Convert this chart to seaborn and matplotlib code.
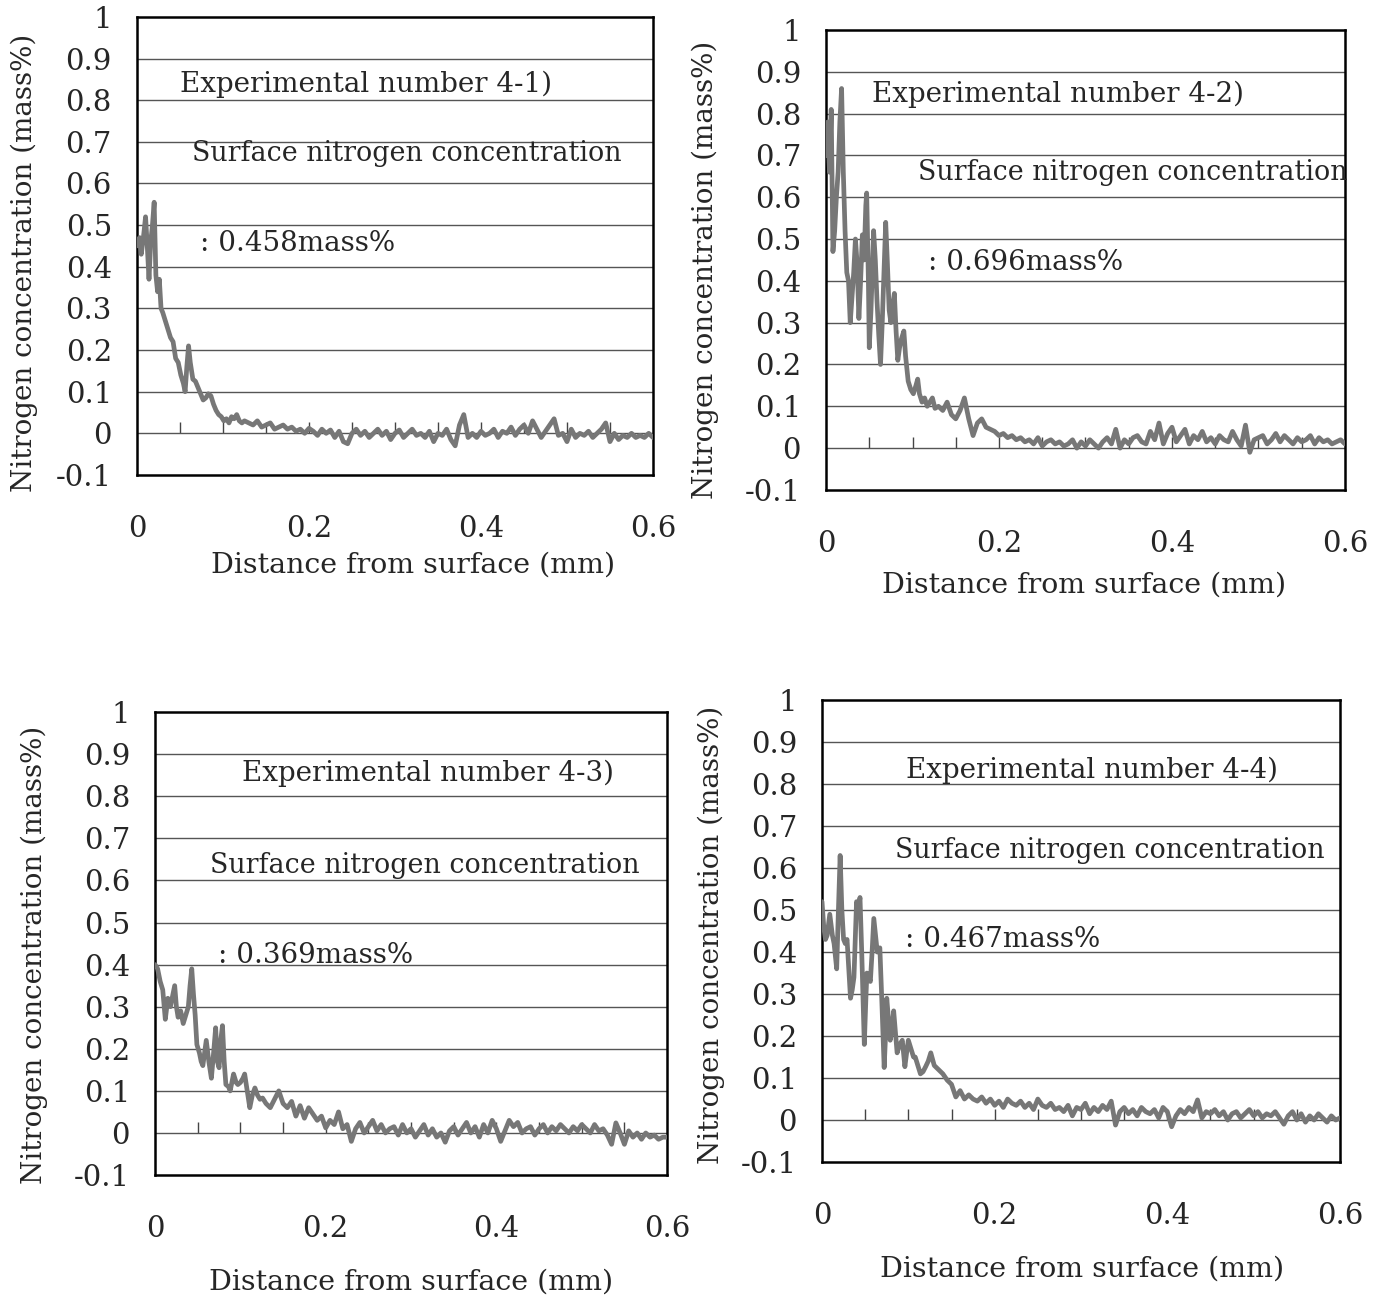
import numpy as np
import pandas as pd
import matplotlib
matplotlib.use("Agg")
import matplotlib.pyplot as plt
import seaborn as sns

# ---- data ----
# near-surface part (dense), x in mm
head_x_41 = [0.000, 0.003, 0.005, 0.008, 0.010, 0.012, 0.014, 0.016, 0.018, 0.020,
             0.022, 0.024, 0.026, 0.028, 0.030, 0.033, 0.036, 0.039, 0.042, 0.045,
             0.048, 0.051, 0.054, 0.056, 0.058, 0.060, 0.062, 0.065, 0.068, 0.071,
             0.074, 0.077, 0.080, 0.083, 0.086, 0.089, 0.092, 0.095, 0.098, 0.101,
             0.104, 0.107, 0.110, 0.113, 0.116, 0.119, 0.122, 0.125]
head_y_41 = [0.45, 0.47, 0.43, 0.48, 0.52, 0.45, 0.37, 0.46, 0.50, 0.555,
             0.38, 0.34, 0.37, 0.30, 0.29, 0.27, 0.25, 0.23, 0.22, 0.18,
             0.17, 0.14, 0.12, 0.10, 0.16, 0.21, 0.17, 0.13, 0.125, 0.11,
             0.095, 0.08, 0.085, 0.095, 0.09, 0.07, 0.055, 0.045, 0.04, 0.03,
             0.035, 0.025, 0.04, 0.035, 0.045, 0.03, 0.025, 0.03]

head_x_42 = [0.000, 0.002, 0.004, 0.006, 0.008, 0.010, 0.012, 0.014, 0.016, 0.018,
             0.020, 0.022, 0.024, 0.026, 0.028, 0.030, 0.032, 0.034, 0.036, 0.038,
             0.040, 0.042, 0.044, 0.046, 0.047, 0.049, 0.050, 0.052, 0.055, 0.057,
             0.059, 0.061, 0.063, 0.065, 0.067, 0.069, 0.071, 0.073, 0.075, 0.077,
             0.079, 0.081, 0.083, 0.085, 0.087, 0.090, 0.092, 0.095, 0.098, 0.101,
             0.104, 0.106, 0.108, 0.111, 0.114, 0.117, 0.120, 0.123, 0.126]
head_y_42 = [0.70, 0.78, 0.66, 0.81, 0.47, 0.52, 0.60, 0.66, 0.78, 0.86,
             0.66, 0.52, 0.42, 0.40, 0.30, 0.36, 0.42, 0.50, 0.44, 0.31,
             0.40, 0.51, 0.45, 0.58, 0.61, 0.40, 0.24, 0.33, 0.52, 0.45,
             0.35, 0.27, 0.20, 0.30, 0.42, 0.54, 0.44, 0.33, 0.30, 0.34,
             0.37, 0.28, 0.21, 0.24, 0.26, 0.28, 0.22, 0.16, 0.14, 0.13,
             0.15, 0.165, 0.13, 0.11, 0.12, 0.10, 0.11, 0.12, 0.095]

head_x_43 = [0.000, 0.003, 0.006, 0.009, 0.012, 0.015, 0.018, 0.021, 0.023, 0.025,
             0.027, 0.030, 0.033, 0.036, 0.039, 0.041, 0.043, 0.045, 0.047, 0.049,
             0.052, 0.054, 0.056, 0.058, 0.060, 0.063, 0.066, 0.069, 0.071, 0.073,
             0.075, 0.077, 0.079, 0.081, 0.083, 0.086, 0.088, 0.090, 0.092, 0.095,
             0.097, 0.100, 0.103, 0.105, 0.108, 0.111, 0.114, 0.117, 0.120, 0.123,
             0.126]
head_y_43 = [0.40, 0.39, 0.36, 0.34, 0.27, 0.32, 0.30, 0.33, 0.35, 0.30,
             0.275, 0.29, 0.26, 0.28, 0.30, 0.35, 0.39, 0.33, 0.28, 0.21,
             0.19, 0.17, 0.16, 0.19, 0.22, 0.17, 0.13, 0.20, 0.25, 0.17,
             0.155, 0.22, 0.255, 0.17, 0.115, 0.11, 0.10, 0.12, 0.14, 0.12,
             0.115, 0.12, 0.13, 0.14, 0.10, 0.06, 0.09, 0.107, 0.09, 0.08,
             0.083]

head_x_44 = [0.000, 0.002, 0.004, 0.006, 0.009, 0.012, 0.014, 0.017, 0.019, 0.021,
             0.023, 0.025, 0.027, 0.029, 0.031, 0.033, 0.035, 0.037, 0.039, 0.040,
             0.042, 0.044, 0.046, 0.049, 0.051, 0.052, 0.054, 0.056, 0.058, 0.060,
             0.062, 0.064, 0.067, 0.069, 0.072, 0.074, 0.075, 0.077, 0.079, 0.081,
             0.083, 0.085, 0.087, 0.090, 0.093, 0.096, 0.098, 0.100, 0.103, 0.106,
             0.108, 0.111, 0.114, 0.117, 0.120, 0.123, 0.126]
head_y_44 = [0.52, 0.46, 0.43, 0.44, 0.49, 0.44, 0.42, 0.36, 0.50, 0.63,
             0.50, 0.43, 0.42, 0.43, 0.36, 0.29, 0.31, 0.34, 0.46, 0.52,
             0.50, 0.53, 0.40, 0.18, 0.30, 0.35, 0.34, 0.33, 0.40, 0.48,
             0.44, 0.40, 0.41, 0.30, 0.125, 0.22, 0.29, 0.24, 0.19, 0.22,
             0.26, 0.21, 0.16, 0.18, 0.19, 0.127, 0.16, 0.19, 0.17, 0.15,
             0.15, 0.13, 0.11, 0.115, 0.127, 0.14, 0.16]

# deeper part, every 0.005 mm from 0.13 to 0.60
tail_x = np.linspace(0.13, 0.60, 95)
tail_y_41 = [0.025, 0.02, 0.03, 0.015, 0.02, 0.025, 0.01, 0.015, 0.02, 0.01,
             0.015, 0.005, 0.01, 0.0, 0.012, 0.005, -0.005, 0.01, 0.0, 0.008,
             -0.01, 0.005, -0.02, -0.025, 0.0, 0.01, -0.005, 0.005, -0.01, 0.0,
             0.01, -0.005, 0.005, -0.015, 0.0, 0.008, -0.01, 0.0, 0.01, -0.005,
             0.0, -0.01, 0.005, -0.02, 0.0, -0.005, 0.01, -0.015, -0.03, 0.02,
             0.045, -0.01, 0.0, -0.01, 0.005, -0.005, 0.0, 0.01, -0.01, 0.005,
             0.0, 0.015, -0.005, 0.01, 0.02, 0.0, 0.03, 0.01, -0.01, 0.005,
             0.02, 0.035, -0.005, 0.0, -0.02, 0.01, -0.01, 0.0, -0.005, 0.005,
             -0.01, 0.0, 0.01, 0.025, -0.02, 0.0, -0.015, -0.005, -0.01, 0.0,
             -0.01, -0.005, -0.01, 0.0, -0.01]
tail_y_42 = [0.10, 0.09, 0.11, 0.08, 0.07, 0.09, 0.12, 0.07, 0.03, 0.06,
             0.07, 0.05, 0.045, 0.04, 0.03, 0.035, 0.025, 0.03, 0.02, 0.025,
             0.015, 0.02, 0.01, 0.025, 0.005, 0.015, 0.02, 0.01, 0.015, 0.005,
             0.01, 0.02, 0.0, 0.015, 0.005, 0.02, 0.01, 0.0, 0.015, 0.025,
             0.01, 0.045, 0.0, 0.02, 0.01, 0.025, 0.03, 0.015, 0.01, 0.04,
             0.02, 0.06, 0.01, 0.035, 0.05, 0.015, 0.03, 0.045, 0.01, 0.03,
             0.02, 0.04, 0.015, 0.025, 0.01, 0.03, 0.02, 0.015, 0.04, 0.02,
             0.005, 0.055, -0.01, 0.02, 0.025, 0.03, 0.01, 0.02, 0.035, 0.015,
             0.03, 0.02, 0.01, 0.025, 0.015, 0.02, 0.03, 0.01, 0.025, 0.015,
             0.02, 0.01, 0.015, 0.02, 0.01]
tail_y_43 = [0.07, 0.06, 0.08, 0.10, 0.07, 0.06, 0.075, 0.04, 0.065, 0.035,
             0.06, 0.045, 0.03, 0.04, 0.012, 0.03, 0.02, 0.05, 0.01, 0.02,
             -0.02, 0.01, 0.025, 0.0, 0.015, 0.03, 0.005, 0.02, 0.0, 0.01,
             0.015, -0.005, 0.02, 0.0, 0.01, -0.01, 0.005, 0.02, -0.005, 0.01,
             -0.01, 0.0, -0.022, 0.005, 0.015, -0.005, 0.01, 0.025, 0.0, 0.015,
             -0.01, 0.02, 0.0, 0.03, 0.01, -0.02, 0.005, 0.03, 0.015, 0.025,
             0.0, 0.01, 0.015, -0.005, 0.01, 0.02, 0.0, 0.015, 0.005, 0.02,
             0.01, 0.0, 0.015, 0.005, 0.02, 0.01, 0.0, 0.02, 0.005, 0.01,
             -0.005, -0.027, 0.024, 0.0, -0.027, 0.005, -0.01, 0.0, -0.015, 0.0,
             -0.01, -0.005, -0.015, -0.01, -0.01]
tail_y_44 = [0.13, 0.12, 0.11, 0.095, 0.085, 0.055, 0.07, 0.05, 0.06, 0.05,
             0.045, 0.055, 0.04, 0.05, 0.035, 0.045, 0.03, 0.05, 0.04, 0.035,
             0.045, 0.03, 0.04, 0.025, 0.05, 0.035, 0.03, 0.04, 0.025, 0.03,
             0.02, 0.035, 0.01, 0.03, 0.025, 0.04, 0.015, 0.03, 0.02, 0.035,
             0.025, 0.045, -0.012, 0.02, 0.03, 0.015, 0.025, 0.01, 0.03, 0.02,
             0.015, 0.025, 0.005, 0.03, 0.02, -0.016, 0.01, 0.025, 0.015, 0.03,
             0.02, 0.048, 0.005, 0.02, 0.015, 0.025, 0.01, 0.02, 0.0, 0.015,
             0.02, 0.005, 0.015, 0.025, 0.01, 0.02, 0.005, 0.015, 0.01, 0.02,
             0.005, -0.01, 0.01, 0.02, 0.0, 0.015, -0.005, 0.01, 0.0, 0.015,
             0.005, -0.005, 0.01, 0.0, 0.005]

experiments = ["4-1", "4-2", "4-3", "4-4"]
surface_conc = ["0.458", "0.696", "0.369", "0.467"]
heads_x = [head_x_41, head_x_42, head_x_43, head_x_44]
heads_y = [head_y_41, head_y_42, head_y_43, head_y_44]
tails_y = [tail_y_41, tail_y_42, tail_y_43, tail_y_44]

y_ticks = [-0.1, 0.0, 0.1, 0.2, 0.3, 0.4, 0.5, 0.6, 0.7, 0.8, 0.9, 1.0]
y_tick_labels = ["-0.1", "0", "0.1", "0.2", "0.3", "0.4", "0.5", "0.6", "0.7", "0.8", "0.9", "1"]
x_ticks = [0.0, 0.2, 0.4, 0.6]
x_tick_labels = ["0", "0.2", "0.4", "0.6"]

# ---- layout (figure fractions) and text placement ----
axes_rect = [[0.0991, 0.6352, 0.3734, 0.3518],
             [0.5977, 0.6237, 0.3755, 0.3533],
             [0.1122, 0.0975, 0.3705, 0.3556],
             [0.5948, 0.1075, 0.3748, 0.3548]]
# (x, y) data positions of left edge / vertical centre of the three notes
note_pos = [[(0.050, 0.837), (0.064, 0.673), (0.073, 0.457)],
            [(0.053, 0.847), (0.106, 0.658), (0.118, 0.443)],
            [(0.102, 0.855), (0.064, 0.636), (0.074, 0.421)],
            [(0.097, 0.833), (0.085, 0.643), (0.096, 0.429)]]
note_size = [20, 19.4, 20]
xlabel_xy = [(0.535, -0.168), (0.497, -0.178), (0.500, -0.203), (0.502, -0.203)]
ylabel_xy = [(-0.192, 0.463), (-0.207, 0.478), (-0.210, 0.475), (-0.188, 0.491)]

sns.set_style("white")
plt.rcParams["font.family"] = ["DejaVu Serif"]

fig = plt.figure(figsize=(13.82, 13.02), dpi=100)

for i in range(4):
    df = pd.DataFrame({
        "x": np.concatenate([heads_x[i], tail_x]),
        "y": np.concatenate([heads_y[i], tails_y[i]]),
    })
    ax = fig.add_axes(axes_rect[i])
    sns.lineplot(data=df, x="x", y="y", ax=ax, color="#777777", lw=3.4,
                 sort=False, zorder=3)
    ax.set_xlim(0, 0.6)
    ax.set_ylim(-0.1, 1.0)

    for g in y_ticks[1:-1]:
        ax.axhline(g, color="#555555", lw=1.0, zorder=1)

    ax.set_yticks(y_ticks)
    ax.set_yticklabels(y_tick_labels)
    ax.set_xticks(x_ticks)
    ax.set_xticklabels(x_tick_labels)
    ax.tick_params(axis="y", direction="out", length=3, width=1, pad=15, labelsize=21)
    ax.tick_params(axis="x", length=0, pad=29, labelsize=21)

    # small marks along the zero line every 0.05 mm
    sec = ax.secondary_xaxis(0.1 / 1.1)
    sec.set_xticks(np.arange(0.05, 0.6, 0.05))
    sec.tick_params(direction="in", length=8, width=1, color="#444444", labelbottom=False)
    sec.spines["bottom"].set_visible(False)

    for s in ax.spines.values():
        s.set_color("black")
        s.set_linewidth(1.8)

    ax.set_xlabel("Distance from surface (mm)", fontsize=20.5)
    ax.set_ylabel("Nitrogen concentration (mass%)", fontsize=20)
    ax.xaxis.set_label_coords(*xlabel_xy[i])
    ax.yaxis.set_label_coords(*ylabel_xy[i])

    notes = ["Experimental number " + experiments[i] + ")",
             "Surface nitrogen concentration",
             ": " + surface_conc[i] + "mass%"]
    for (tx, ty), t, fs in zip(note_pos[i], notes, note_size):
        ax.text(tx, ty, t, fontsize=fs, ha="left", va="center", zorder=4)

fig.savefig("out.png", dpi=100)
